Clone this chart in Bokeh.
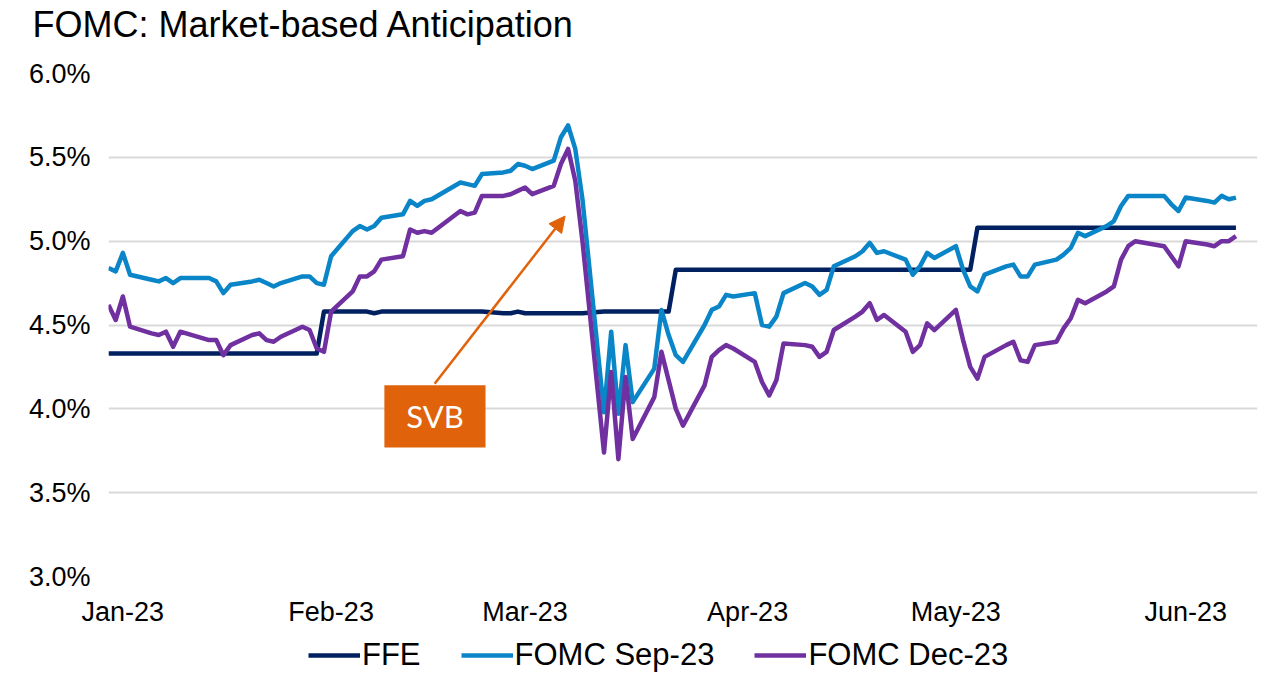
import pandas as pd
from bokeh.plotting import figure
from bokeh.layouts import column
from bokeh.models import (Range1d, FixedTicker, DatetimeTickFormatter, PrintfTickFormatter,
                          Legend, LegendItem, Arrow, NormalHead, ColumnDataSource)
from bokeh.core.properties import value
from bokeh.embed import file_html
from bokeh.resources import INLINE

# ---------------- data ----------------
holidays = ["2023-01-16", "2023-02-20", "2023-05-29"]
dates = pd.bdate_range("2023-01-03", "2023-06-09", freq="C", holidays=holidays)

ffe = [
    # Jan
    4.33, 4.33, 4.33, 4.33, 4.33, 4.33, 4.33, 4.33, 4.33, 4.33,
    4.33, 4.33, 4.33, 4.33, 4.33, 4.33, 4.33, 4.33, 4.33, 4.33,
    # Feb
    4.33, 4.58, 4.58, 4.58, 4.58, 4.58, 4.57, 4.58, 4.58, 4.58,
    4.58, 4.58, 4.58, 4.58, 4.58, 4.58, 4.58, 4.57, 4.57,
    # Mar
    4.58, 4.57, 4.57, 4.57, 4.57, 4.57, 4.57, 4.57, 4.58, 4.58,
    4.58, 4.58, 4.58, 4.58, 4.58, 4.58, 4.83, 4.83, 4.83, 4.83,
    4.83, 4.83, 4.83,
    # Apr
    4.83, 4.83, 4.83, 4.83, 4.83, 4.83, 4.83, 4.83, 4.83, 4.83,
    4.83, 4.83, 4.83, 4.83, 4.83, 4.83, 4.83, 4.83, 4.83, 4.83,
    # May
    4.83, 4.83, 4.83, 5.08, 5.08, 5.08, 5.08, 5.08, 5.08, 5.08,
    5.08, 5.08, 5.08, 5.08, 5.08, 5.08, 5.08, 5.08, 5.08, 5.08,
    5.08, 5.08,
    # Jun
    5.08, 5.08, 5.08, 5.08, 5.08, 5.08, 5.08,
]

fomc_sep23 = [
    # Jan
    4.84, 4.82, 4.93, 4.80, 4.77, 4.76, 4.78, 4.75, 4.78, 4.78,
    4.76, 4.69, 4.74, 4.76, 4.77, 4.75, 4.73, 4.75, 4.79, 4.79,
    # Feb
    4.75, 4.74, 4.91, 5.06, 5.09, 5.07, 5.09, 5.14, 5.16, 5.24,
    5.21, 5.24, 5.25, 5.35, 5.34, 5.33, 5.40, 5.41, 5.42,
    # Mar
    5.46, 5.45, 5.43, 5.48, 5.62, 5.69, 5.55, 5.25, 3.98, 4.46,
    3.97, 4.38, 4.04, 4.24, 4.59, 4.44, 4.32, 4.28, 4.50, 4.59,
    4.61, 4.68, 4.67,
    # Apr
    4.69, 4.50, 4.49, 4.55, 4.69, 4.75, 4.73, 4.68, 4.71, 4.85,
    4.91, 4.94, 4.99, 4.93, 4.94, 4.89, 4.80, 4.85, 4.93, 4.90,
    # May
    4.97, 4.83, 4.73, 4.70, 4.80, 4.85, 4.86, 4.79, 4.79, 4.86,
    4.89, 4.92, 4.96, 5.05, 5.03, 5.09, 5.12, 5.21, 5.27, 5.27,
    5.27, 5.22,
    # Jun
    5.18, 5.26, 5.24, 5.23, 5.27, 5.25, 5.26,
]

fomc_dec23 = [
    # Jan
    4.62, 4.53, 4.67, 4.49, 4.45, 4.44, 4.46, 4.37, 4.46, 4.41,
    4.41, 4.32, 4.38, 4.44, 4.45, 4.41, 4.40, 4.43, 4.49, 4.47,
    # Feb
    4.36, 4.34, 4.58, 4.70, 4.79, 4.79, 4.82, 4.89, 4.91, 5.07,
    5.05, 5.06, 5.05, 5.18, 5.16, 5.17, 5.27, 5.27, 5.28,
    # Mar
    5.30, 5.32, 5.28, 5.33, 5.46, 5.55, 5.36, 5.00, 3.74, 4.22,
    3.70, 4.19, 3.82, 4.07, 4.34, 4.17, 4.00, 3.90, 4.14, 4.31,
    4.35, 4.38, 4.36,
    # Apr
    4.28, 4.16, 4.08, 4.17, 4.39, 4.38, 4.37, 4.31, 4.34, 4.47,
    4.55, 4.58, 4.63, 4.53, 4.56, 4.46, 4.34, 4.38, 4.51, 4.47,
    # May
    4.59, 4.41, 4.25, 4.18, 4.31, 4.38, 4.40, 4.29, 4.28, 4.38,
    4.40, 4.48, 4.54, 4.65, 4.63, 4.70, 4.73, 4.89, 4.97, 5.00,
    4.97, 4.91,
    # Jun
    4.85, 5.00, 4.98, 4.97, 5.00, 5.00, 5.03,
]

series_names = ["FFE", "FOMC Sep-23", "FOMC Dec-23"]
y_ticks = [3.0, 3.5, 4.0, 4.5, 5.0, 5.5, 6.0]
tick_dates = ["2023-01-05", "2023-02-03", "2023-03-02", "2023-04-02", "2023-05-01", "2023-06-02"]
title_text = "FOMC: Market-based Anticipation"

assert len(dates) == len(ffe) == len(fomc_sep23) == len(fomc_dec23)

# annotation (SVB) anchor values
svb_text = "SVB"
svb_box = dict(left="2023-02-10 10:00", right="2023-02-24 12:00", top=4.14, bottom=3.77)
svb_arrow = dict(x0="2023-02-17 10:00", y0=4.15, x1="2023-03-07 14:00", y1=5.15)

# ---------------- styling ----------------
C_FFE = "#002060"
C_SEP = "#0A86C8"
C_DEC = "#7030A0"
C_ORANGE = "#E0620A"
FONT = "Liberation Sans"
LW = 4.5
W = 1260

def ms(s):
    return pd.Timestamp(s).value / 1e6

def strip(height, title=None):
    f = figure(width=W, height=height, output_backend="svg", toolbar_location=None,
               x_range=Range1d(0, 1), y_range=Range1d(0, 1), min_border=0,
               x_axis_location=None, y_axis_location=None, title=title)
    f.grid.grid_line_color = None
    f.outline_line_color = None
    f.border_fill_color = "white"
    f.background_fill_color = "white"
    return f

# ---- title strip (frames of the column are aligned, so the title is offset left) ----
t = strip(46, title=title_text)
t.title.text_font = FONT
t.title.text_font_style = "normal"
t.title.text_font_size = "36px"
t.title.text_color = "#000000"
t.title.align = "left"
t.title.offset = -76
t.title.standoff = 2

# ---- main chart ----
src = ColumnDataSource(dict(date=dates, ffe=ffe, sep=fomc_sep23, dec=fomc_dec23))

p = figure(width=W, height=583, x_axis_type="datetime",
           output_backend="svg", toolbar_location=None, title=None,
           x_range=Range1d(ms("2023-01-03"), ms("2023-06-12")),
           y_range=Range1d(3.0, 6.0),
           min_border_left=108, min_border_right=3,
           min_border_top=27, min_border_bottom=53)

p.outline_line_color = None
p.background_fill_color = "white"
p.border_fill_color = "white"

p.xgrid.grid_line_color = None
p.ygrid.grid_line_color = "#D9D9D9"
p.ygrid.grid_line_width = 2
p.ygrid.ticker = FixedTicker(ticks=y_ticks)

p.yaxis.ticker = FixedTicker(ticks=y_ticks)
p.yaxis.formatter = PrintfTickFormatter(format="%.1f%%")
p.xaxis.ticker = FixedTicker(ticks=[ms(d) for d in tick_dates])
p.xaxis.formatter = DatetimeTickFormatter(days="%b-%y", months="%b-%y", years="%b-%y")
for ax in (p.xaxis, p.yaxis):
    ax.axis_line_color = None
    ax.major_tick_line_color = None
    ax.minor_tick_line_color = None
    ax.major_label_text_font = FONT
    ax.major_label_text_color = "#000000"
p.yaxis.major_label_text_font_size = "27px"
p.xaxis.major_label_text_font_size = "27px"
p.yaxis.major_label_standoff = 12
p.xaxis.major_label_standoff = 14

r_ffe = p.line("date", "ffe", source=src, line_color=C_FFE, line_width=LW, line_join="round")
r_sep = p.line("date", "sep", source=src, line_color=C_SEP, line_width=LW, line_join="round")
r_dec = p.line("date", "dec", source=src, line_color=C_DEC, line_width=LW, line_join="round")

# SVB annotation
p.quad(left=[pd.Timestamp(svb_box["left"])], right=[pd.Timestamp(svb_box["right"])],
       top=[svb_box["top"]], bottom=[svb_box["bottom"]],
       fill_color=C_ORANGE, line_color=None)
cx = pd.Timestamp(svb_box["left"]) + (pd.Timestamp(svb_box["right"]) - pd.Timestamp(svb_box["left"])) / 2
cy = (svb_box["top"] + svb_box["bottom"]) / 2
p.text(x=[cx], y=[cy], text=[svb_text], text_font=value("Lato"), text_font_size="31px",
       text_color="white", text_align="center", text_baseline="middle")
p.add_layout(Arrow(end=NormalHead(size=16, fill_color=C_ORANGE, line_color=C_ORANGE),
                   x_start=ms(svb_arrow["x0"]), y_start=svb_arrow["y0"],
                   x_end=ms(svb_arrow["x1"]), y_end=svb_arrow["y1"],
                   line_color=C_ORANGE, line_width=2.5))

# ---- legend strip ----
q = strip(44)
# legend swatches: renderers kept outside the strip's visible range
legend_renderers = [q.line(x=[5, 6], y=[5, 6], line_color=c, line_width=LW)
                    for c in (C_FFE, C_SEP, C_DEC)]
legend = Legend(items=[LegendItem(label=n, renderers=[r])
                       for n, r in zip(series_names, legend_renderers)],
                orientation="horizontal", location=(200, 0))
legend.label_text_font = FONT
legend.label_text_font_size = "31px"
legend.label_text_color = "#000000"
legend.glyph_width = 52
legend.glyph_height = 28
legend.label_standoff = 2
legend.spacing = 40
legend.padding = 0
legend.margin = 0
legend.border_line_color = None
legend.background_fill_alpha = 0
q.add_layout(legend)

layout = column(t, p, q, spacing=0)
open("out.html", "w").write(file_html(layout, INLINE))
